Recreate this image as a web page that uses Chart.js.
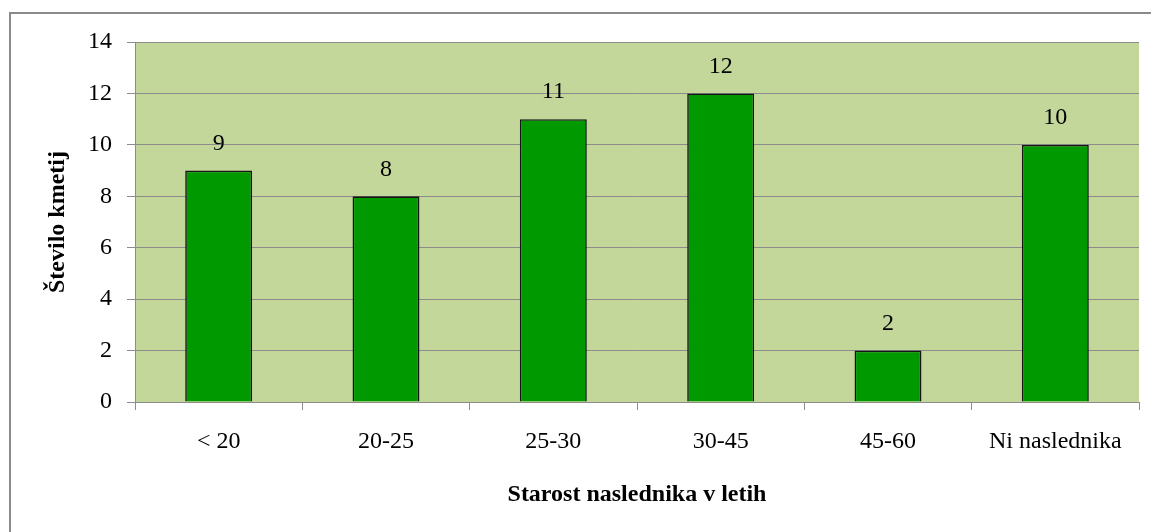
<!DOCTYPE html>
<html>
<head>
<meta charset="utf-8">
<script src="https://cdn.jsdelivr.net/npm/chart.js@4/dist/chart.umd.min.js"></script>
<style>
  html, body { margin: 0; padding: 0; background: #fff; overflow: hidden; }
  #frame {
    position: absolute; left: 9px; top: 12px; width: 1300px; height: 700px;
    border-top: 2px solid #8a8a8a; border-left: 2px solid #8a8a8a;
  }
  #wrap { position: absolute; left: 0; top: 0; width: 1151px; height: 532px; }
</style>
</head>
<body>
<div id="frame"></div>
<div id="wrap"><canvas id="chart"></canvas></div>
<script>
const categories = ['< 20', '20-25', '25-30', '30-45', '45-60', 'Ni naslednika'];
const farmCounts = [9, 8, 11, 12, 2, 10];
const yTicks = [0, 2, 4, 6, 8, 10, 12, 14];

const serif = "'Liberation Serif', 'Times New Roman', serif";
const gridGray = '#8c8c8c';

// green plot area behind the bars
const plotBackground = {
  id: 'plotBackground',
  beforeDraw(chart) {
    const {ctx, chartArea: a} = chart;
    ctx.save();
    ctx.fillStyle = '#c4d79b';
    ctx.fillRect(a.left, a.top, a.right - a.left, a.bottom - a.top);
    ctx.restore();
  }
};

// value printed above each bar
const barValues = {
  id: 'barValues',
  afterDatasetsDraw(chart) {
    const {ctx} = chart;
    const meta = chart.getDatasetMeta(0);
    ctx.save();
    ctx.font = '24px ' + serif;
    ctx.fillStyle = '#000';
    ctx.textAlign = 'center';
    ctx.textBaseline = 'middle';
    meta.data.forEach((bar, i) => {
      ctx.fillText(String(farmCounts[i]), bar.x, bar.y - 27);
    });
    ctx.restore();
  }
};

const ctx = document.getElementById('chart').getContext('2d');
new Chart(ctx, {
  type: 'bar',
  data: {
    labels: categories,
    datasets: [{
      data: farmCounts,
      backgroundColor: '#009900',
      borderColor: '#141414',
      borderWidth: 1.6,
      barPercentage: 0.4,
      categoryPercentage: 1
    }]
  },
  options: {
    responsive: true,
    maintainAspectRatio: false,
    animation: false,
    layout: { padding: { top: 42, right: 12, bottom: 0, left: 0 } },
    plugins: {
      legend: { display: false },
      tooltip: { enabled: false }
    },
    scales: {
      x: {
        afterFit(scale) { scale.height = 130; },
        grid: {
          drawOnChartArea: false,
          offset: true,
          tickLength: 8,
          color: gridGray
        },
        border: { color: gridGray, width: 1 },
        ticks: {
          color: '#000',
          font: { family: serif, size: 24 },
          padding: 17,
          maxRotation: 0
        },
        title: {
          display: true,
          text: 'Starost naslednika v letih',
          color: '#000',
          font: { family: serif, size: 24, weight: 'bold' },
          padding: { top: 0, bottom: 23 }
        }
      },
      y: {
        min: 0,
        max: 14,
        afterFit(scale) { scale.width = 135; },
        afterBuildTicks(scale) { scale.ticks = yTicks.map(v => ({value: v})); },
        grid: {
          color: gridGray,
          tickLength: 8
        },
        border: { color: gridGray, width: 1 },
        ticks: {
          color: '#000',
          font: { family: serif, size: 24 },
          padding: 15
        },
        title: {
          display: true,
          text: 'Število kmetij',
          color: '#000',
          font: { family: serif, size: 24, weight: 'bold' },
          padding: { top: 43, bottom: 0 }
        }
      }
    }
  },
  plugins: [plotBackground, barValues]
});
</script>
</body>
</html>
